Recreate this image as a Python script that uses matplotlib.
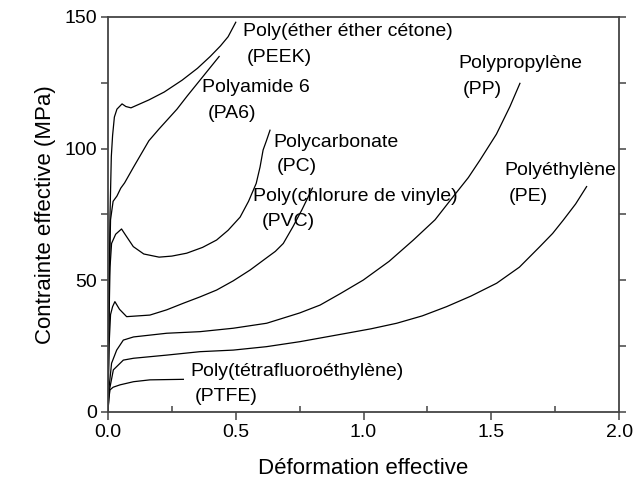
import matplotlib
matplotlib.use('Agg')
import matplotlib.pyplot as plt
from matplotlib.ticker import MultipleLocator

# curves (effective strain, effective stress in MPa)
peek_x = [0, 0.004, 0.008, 0.013, 0.018, 0.025, 0.035, 0.055, 0.07, 0.09, 0.16, 0.22, 0.29, 0.35, 0.40, 0.44, 0.47, 0.50]
peek_y = [0, 40, 75, 97, 105, 112, 115, 117, 116, 115.5, 118.5, 121.5, 126, 130.5, 135, 139, 142.5, 148]

pa6_x = [0, 0.004, 0.01, 0.02, 0.035, 0.05, 0.065, 0.1, 0.16, 0.2, 0.27, 0.31, 0.36, 0.435]
pa6_y = [0, 45, 73, 80, 82, 85, 87, 93, 103, 107.5, 115, 120, 126, 135]

pc_x = [0, 0.004, 0.008, 0.014, 0.03, 0.053, 0.07, 0.099, 0.14, 0.2, 0.25, 0.308, 0.37, 0.425, 0.47,
        0.517, 0.55, 0.58, 0.595, 0.607, 0.62, 0.634]
pc_y = [0, 35, 55, 64, 67.5, 69.5, 67, 62.8, 60, 58.8, 59.2, 60.3, 62.5, 65.3, 69,
        74, 80, 86.8, 93, 99.5, 103, 107]

pvc_x = [0, 0.004, 0.01, 0.018, 0.027, 0.045, 0.073, 0.164, 0.23, 0.295, 0.36, 0.425, 0.49, 0.556,
         0.62, 0.655, 0.686, 0.724, 0.76, 0.80]
pvc_y = [0, 25, 37, 40, 41.9, 39, 36.2, 36.8, 38.8, 41.3, 43.7, 46.3, 49.8, 53.9,
         58.5, 61, 64, 70.4, 77, 85]

pp_x = [0, 0.005, 0.014, 0.034, 0.06, 0.1, 0.23, 0.36, 0.49, 0.621, 0.75, 0.83, 0.91, 0.999, 1.1,
        1.195, 1.28, 1.351, 1.41, 1.456, 1.52, 1.573, 1.612]
pp_y = [0, 10, 18.5, 23.5, 27.3, 28.5, 29.9, 30.5, 31.8, 33.7, 37.6, 40.6, 45, 50.1, 57.2,
        65.3, 73, 81.8, 89, 95.7, 105.5, 116, 124.8]

pe_x = [0, 0.005, 0.021, 0.06, 0.1, 0.23, 0.36, 0.49, 0.62, 0.751, 0.934, 1.03, 1.13, 1.23, 1.325,
        1.42, 1.521, 1.61, 1.69, 1.74, 1.782, 1.83, 1.873]
pe_y = [0, 8, 16, 19.7, 20.4, 21.6, 22.9, 23.5, 24.8, 26.7, 29.9, 31.6, 33.7, 36.5, 40,
        44, 48.9, 55, 62.8, 67.8, 72.9, 79, 85.6]

ptfe_x = [0, 0.003, 0.008, 0.02, 0.047, 0.1, 0.164, 0.295]
ptfe_y = [0, 5, 8.4, 9.4, 10.3, 11.5, 12.2, 12.4]

curves = [(peek_x, peek_y), (pa6_x, pa6_y), (pc_x, pc_y), (pvc_x, pvc_y),
          (pp_x, pp_y), (pe_x, pe_y), (ptfe_x, ptfe_y)]

# two-line labels: name then abbreviation
label_names = ['Poly(éther éther cétone)', 'Polyamide 6', 'Polycarbonate',
               'Poly(chlorure de vinyle)', 'Polypropylène', 'Polyéthylène',
               'Poly(tétrafluoroéthylène)']
label_abbr = ['(PEEK)', '(PA6)', '(PC)', '(PVC)', '(PP)', '(PE)', '(PTFE)']
name_pos = [(0.528, 144.3), (0.367, 123.3), (0.646, 102.3), (0.568, 81.8),
            (1.371, 132.4), (1.55, 91.6), (0.321, 15.3)]
abbr_pos = [(0.544, 134.8), (0.389, 113.4), (0.661, 93.2), (0.603, 72.5),
            (1.388, 122.3), (1.568, 81.8), (0.34, 5.8)]

plt.rcParams['font.family'] = ['Liberation Sans', 'DejaVu Sans']

fig = plt.figure(figsize=(6.33, 4.84), dpi=100)
ax = fig.add_axes([0.1706, 0.1488, 0.8074, 0.8161])

for x, y in curves:
	ax.plot(x, y, color='black', lw=0.9)

#each label is two lines, the abbreviation sits a bit to the right
for i in range(len(label_names)):
	ax.text(name_pos[i][0], name_pos[i][1], label_names[i], fontsize=14, va='center', ha='left')
	ax.text(abbr_pos[i][0], abbr_pos[i][1], label_abbr[i], fontsize=14, va='center', ha='left')

ax.set_xlim(0, 2.0)
ax.set_ylim(0, 150)
ax.xaxis.set_major_locator(MultipleLocator(0.5))
ax.xaxis.set_minor_locator(MultipleLocator(0.25))
ax.yaxis.set_major_locator(MultipleLocator(50))
ax.yaxis.set_minor_locator(MultipleLocator(25))
ax.set_xticks([0, 0.5, 1.0, 1.5, 2.0])
ax.set_xticklabels(['0.0', '0.5', '1.0', '1.5', '2.0'])

for s in ax.spines.values():
	s.set_color('#444444')
	s.set_linewidth(1.3)

ax.tick_params(axis='x', which='major', direction='out', length=6, width=1.1, color='#444444', labelsize=14, pad=3)
ax.tick_params(axis='x', which='minor', direction='in', length=4, width=1.1, color='#444444')
ax.tick_params(axis='y', which='both', direction='out', length=5, width=1.1, color='#444444', labelsize=14,
               right=True, pad=3)

ax.set_xlabel('Déformation effective', fontsize=16, labelpad=12)
ax.set_ylabel('Contrainte effective (MPa)', fontsize=16, labelpad=6)

plt.savefig('out.png', dpi=100)
